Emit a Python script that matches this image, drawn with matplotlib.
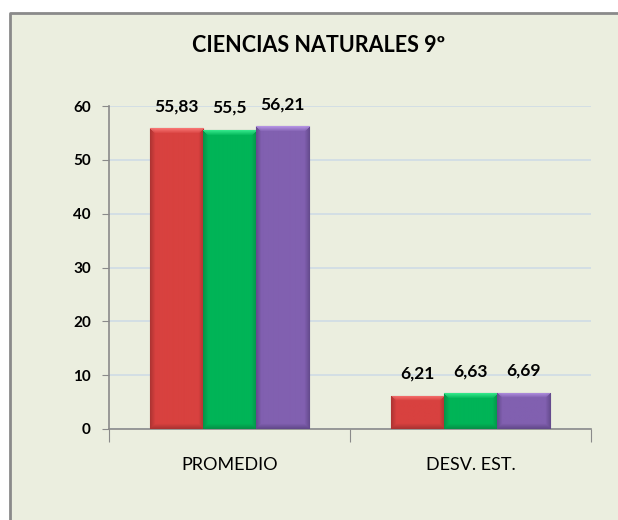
import numpy as np
import matplotlib
matplotlib.use("Agg")
import matplotlib.pyplot as plt
from matplotlib.patches import Rectangle
from matplotlib.lines import Line2D
from matplotlib.colors import to_rgb

# Data
categories = ["PROMEDIO", "DESV. EST."]
grupo_1 = [55.83, 6.21]
grupo_2 = [55.5, 6.63]
grupo_3 = [56.21, 6.69]
y_ticks = [0, 10, 20, 30, 40, 50, 60]
title = "CIENCIAS NATURALES 9º"

series = [grupo_1, grupo_2, grupo_3]
colors = ["#D8413F", "#00B457", "#8160B0"]
edges = ["#8E2A2A", "#0A7A3E", "#4F3A73"]

plt.rcParams['font.family'] = ['Lato', 'DejaVu Sans']
BG = "#EBEEDF"

fig = plt.figure(figsize=(6.18, 5.2), dpi=100)
fig.patch.set_facecolor("white")
# outer chart-area frame (runs off the right and bottom edges)
fx, fy = 9.5 / 618, 1 - 12.5 / 520
fig.patches.append(Rectangle((fx, 0), 1 - fx, fy, transform=fig.transFigure,
                             facecolor=BG, edgecolor="none", zorder=-5))
fig.lines.append(Line2D([fx, fx, 1], [0, fy, fy], transform=fig.transFigure,
                        color="#8A8A8A", linewidth=2, zorder=-4))

ax = fig.add_axes([109 / 618, 1 - 429 / 520, (591 - 109) / 618, (429 - 106) / 520])
ax.set_facecolor("none")
ax.set_xlim(-0.5, len(categories) - 0.5)
ax.set_ylim(0, 60)

x = np.arange(len(categories))
width = 0.22
offsets = [-width, 0, width]

fig.canvas.draw()


def shade(patch, base, edge):
    # bevelled look: light top rim, darker sides and bottom
    x0, y0 = patch.get_x(), patch.get_y()
    w, h = patch.get_width(), patch.get_height()
    p0 = ax.transData.transform((x0, y0))
    p1 = ax.transData.transform((x0 + w, y0 + h))
    wp = max(int(round(p1[0] - p0[0])), 2)
    hp = max(int(round(p1[1] - p0[1])), 2)
    base = np.array(to_rgb(base))
    dark = np.array(to_rgb(edge))
    light = np.clip(base + 0.25, 0, 1)
    img = np.tile(base, (hp, wp, 1))
    bev = 5
    xx = np.arange(wp)[None, :].repeat(hp, 0)
    yy = np.arange(hp)[:, None].repeat(wp, 1)  # row 0 is top
    dl = xx
    dr = wp - 1 - xx
    dt = yy
    db = hp - 1 - yy
    side = np.minimum(dl, dr)
    mix_side = np.clip(1 - side / bev, 0, 1) * 0.55
    mix_bot = np.clip(1 - db / bev, 0, 1) * 0.6
    mix_top = np.clip(1 - dt / bev, 0, 1) * 0.8
    m_dark = np.maximum(mix_side, mix_bot)[..., None]
    img = img * (1 - m_dark) + dark * m_dark
    top_mask = (mix_top > 0) & (dt <= side)
    mt = (mix_top * top_mask)[..., None]
    img = img * (1 - mt) + light * mt
    im = ax.imshow(img, extent=(x0, x0 + w, y0, y0 + h), aspect="auto",
                   interpolation="bilinear", zorder=3)
    im.set_clip_path(patch)


for vals, off, c, ec in zip(series, offsets, colors, edges):
    bars = ax.bar(x + off, vals, width, color=c, edgecolor=ec,
                  linewidth=0.8, zorder=2)
    for b in bars:
        shade(b, c, ec)
    for b, v in zip(bars, vals):
        ax.annotate(f"{v:g}".replace(".", ","),
                    (b.get_x() + b.get_width() / 2, b.get_height()),
                    xytext=(0, 16), textcoords="offset points",
                    ha="center", va="center", fontsize=12.5,
                    fontweight="bold", color="black", zorder=5)

ax.set_xlim(-0.5, len(categories) - 0.5)
ax.set_ylim(0, 60)

# gridlines and axes
ax.set_yticks(y_ticks)
ax.set_yticklabels([str(t) for t in y_ticks], fontsize=11, fontweight="bold")
ax.yaxis.grid(True, color="#CFDBE6", linewidth=1.2, zorder=0)
ax.set_axisbelow(True)
ax.tick_params(axis="y", direction="out", length=5, color="#8A8A8A", pad=8)

ax.set_xticks(np.arange(len(categories) + 1) - 0.5)
ax.set_xticklabels([])
ax.set_xticks(x, minor=True)
ax.set_xticklabels(categories, minor=True, fontsize=13)
ax.tick_params(axis="x", which="major", direction="out", length=9,
               color="#8A8A8A")
ax.tick_params(axis="x", which="minor", length=0, pad=20)

for s in ["top", "right"]:
    ax.spines[s].set_visible(False)
for s in ["left", "bottom"]:
    ax.spines[s].set_color("#8A8A8A")
    ax.spines[s].set_linewidth(1.2)

fig.text(319 / 618, 1 - 46 / 520, title, ha="center", va="center",
         fontsize=15.5, fontweight="bold")

fig.savefig("out.png", dpi=100, facecolor=fig.get_facecolor())
